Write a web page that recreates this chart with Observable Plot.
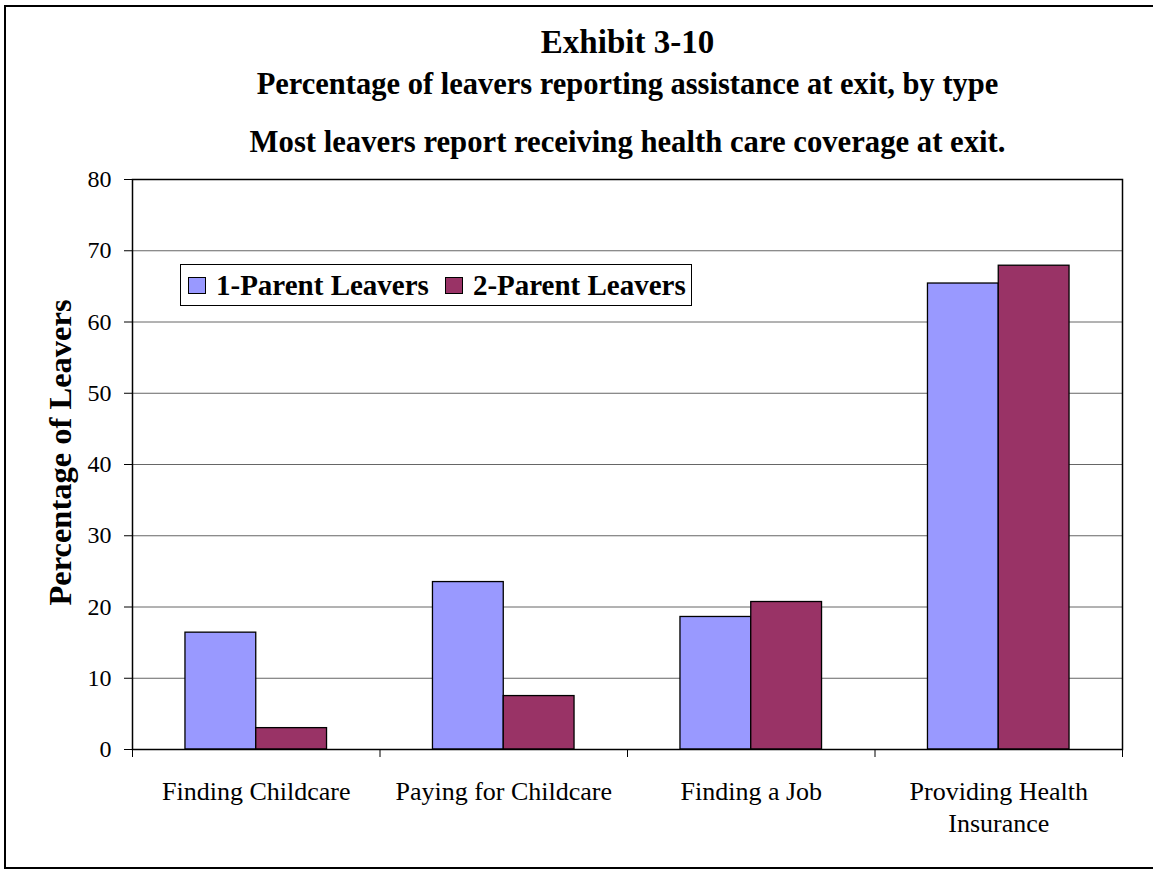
<!DOCTYPE html>
<html>
<head>
<meta charset="utf-8">
<script src="https://cdn.jsdelivr.net/npm/d3@7"></script>
<script src="https://cdn.jsdelivr.net/npm/@observablehq/plot@0.6"></script>
<style>
  html, body { margin: 0; padding: 0; background: #fff; }
  #wrap { position: relative; width: 1153px; height: 871px; overflow: hidden; font-family: "Liberation Serif", "Times New Roman", serif; }
  #border { position: absolute; left: 4px; top: 5px; width: 1200px; height: 864px; border: 2px solid #000; box-sizing: border-box; }
  #chart { position: absolute; left: 0; top: 0; }
  #legend { position: absolute; left: 180px; top: 264px; width: 512px; height: 42px; border: 1px solid #000; box-sizing: border-box; background: #fff;
            display: flex; align-items: center; font-weight: bold; font-size: 29px; padding-left: 7px; white-space: nowrap; }
  .sw { display: inline-block; width: 18px; height: 17px; border: 1px solid #000; box-sizing: border-box; margin-right: 10px; }
  .item { display: flex; align-items: center; margin-right: 16px; }
</style>
</head>
<body>
<div id="wrap">
  <div id="border"></div>
  <div id="chart"></div>
  <div id="legend"></div>
</div>
<script>
const categories = ["Finding Childcare", "Paying for Childcare", "Finding a Job", "Providing Health\nInsurance"];
const seriesNames = ["1-Parent Leavers", "2-Parent Leavers"];
const oneParent = [16.4, 23.5, 18.6, 65.4];
const twoParent = [3.0, 7.5, 20.7, 67.9];
const seriesColors = ["#9999FF", "#993366"];
const yTicks = [0, 10, 20, 30, 40, 50, 60, 70, 80];
const titleLines = ["Exhibit 3-10", "Percentage of leavers reporting assistance at exit, by type", "Most leavers report receiving health care coverage at exit."];
const yLabel = "Percentage of Leavers";

// build rows: category index, series index, value
const rows = [];
categories.forEach((c, i) => {
  rows.push({ci: i, si: 0, series: seriesNames[0], value: oneParent[i]});
  rows.push({ci: i, si: 1, series: seriesNames[1], value: twoParent[i]});
});
const inner = 0.214; // group padding within each category band
const half = 0.5;
rows.forEach(r => {
  r.x1 = r.ci + (r.si === 0 ? inner : half);
  r.x2 = r.ci + (r.si === 0 ? half : 1 - inner);
});

const font = "'Liberation Serif', 'Times New Roman', serif";

const chart = Plot.plot({
  width: 1153,
  height: 871,
  marginLeft: 132,
  marginRight: 31,
  marginTop: 179,
  marginBottom: 122,
  style: {fontFamily: font, fontSize: "24px", color: "#000", background: "transparent", overflow: "visible"},
  x: {type: "linear", domain: [0, categories.length]},
  y: {domain: [0, 80]},
  color: {domain: seriesNames, range: seriesColors},
  marks: [
    Plot.ruleY(yTicks.filter(d => d > 0 && d < 80), {stroke: "#666", strokeWidth: 1}),
    Plot.rectY(rows, {x1: "x1", x2: "x2", y1: 0, y2: "value", fill: "series", stroke: "#000", strokeWidth: 1.3}),
    Plot.frame({stroke: "#000", strokeWidth: 1.5}),
    Plot.axisY({ticks: yTicks, tickSize: 8, tickPadding: 13, fontSize: 24, label: null, tickFormat: d => d}),
    Plot.axisX({ticks: d3.range(categories.length + 1), tickSize: 8, tickFormat: () => "", label: null}),
    Plot.text(categories, {x: (d, i) => i + 0.5, y: 0, text: d => d, dy: 28, lineAnchor: "top", lineHeight: 1.23, fontSize: 26, textAnchor: "middle"}),
    Plot.text([yLabel], {frameAnchor: "left", dx: -72, dy: -12, rotate: -90, fontWeight: "bold", fontSize: 32.5, textAnchor: "middle", lineAnchor: "middle"}),
    Plot.text([titleLines[0]], {frameAnchor: "top", dy: -137, fontWeight: "bold", fontSize: 33, lineAnchor: "middle"}),
    Plot.text([titleLines[1]], {frameAnchor: "top", dy: -95, fontWeight: "bold", fontSize: 30.5, lineAnchor: "middle"}),
    Plot.text([titleLines[2]], {frameAnchor: "top", dy: -37.5, fontWeight: "bold", fontSize: 30.7, lineAnchor: "middle"})
  ]
});
document.getElementById("chart").appendChild(chart);

const legend = document.getElementById("legend");
seriesNames.forEach((s, i) => {
  const item = document.createElement("span");
  item.className = "item";
  const sw = document.createElement("span");
  sw.className = "sw";
  sw.style.background = seriesColors[i];
  item.appendChild(sw);
  item.appendChild(document.createTextNode(s));
  legend.appendChild(item);
});
</script>
</body>
</html>
